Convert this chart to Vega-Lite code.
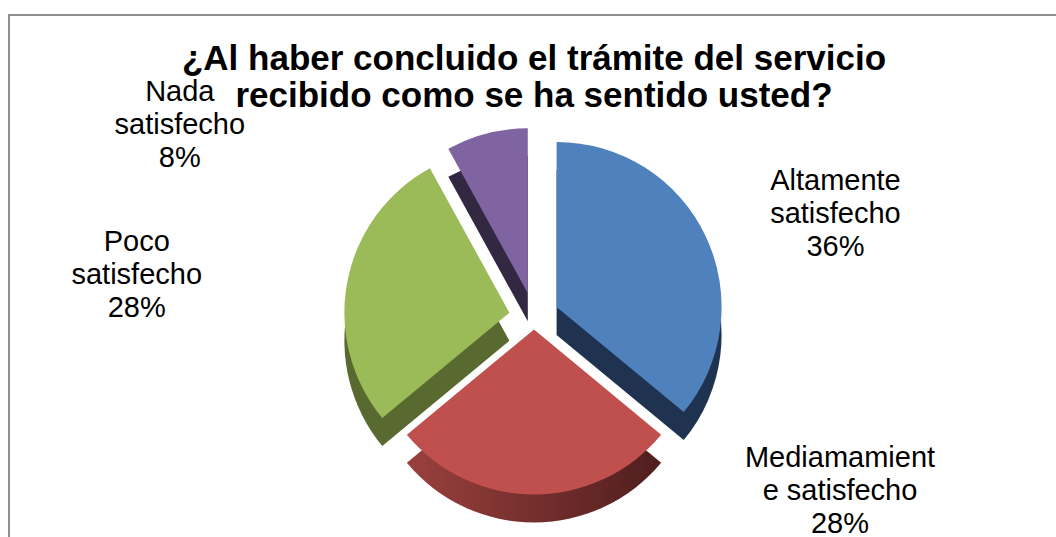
{
  "$schema": "https://vega.github.io/schema/vega-lite/v6.json",
  "width": 1056,
  "height": 537,
  "autosize": {"type": "fit", "contains": "padding"},
  "padding": {"left": 9, "top": 15, "right": -3, "bottom": -3},
  "background": "white",
  "view": {"stroke": "#8f8f8f", "strokeWidth": 2, "fill": "white"},
  "config": {"font": "Liberation Sans"},
  "title": {
    "text": ["¿Al haber concluido el trámite del servicio", "recibido como se ha sentido usted?"],
    "font": "Liberation Sans",
    "fontSize": 35,
    "fontWeight": "bold",
    "color": "#000000",
    "lineHeight": 37,
    "anchor": "middle",
    "frame": "group",
    "baseline": "top",
    "offset": -99
  },
  "data": {
    "values": [
      {"cat": "Altamente satisfecho", "pct": 36, "label": ["Altamente", "satisfecho", "36%"]},
      {"cat": "Mediamamiente satisfecho", "pct": 28, "label": ["Mediamamient", "e satisfecho", "28%"]},
      {"cat": "Poco satisfecho", "pct": 28, "label": ["Poco", "satisfecho", "28%"]},
      {"cat": "Nada satisfecho", "pct": 8, "label": ["Nada", "satisfecho", "8%"]}
    ]
  },
  "transform": [
    {"window": [{"op": "sum", "field": "pct", "as": "end"}], "frame": [null, 0]},
    {"calculate": "datum.end - datum.pct", "as": "start"},
    {"calculate": "(datum.start + datum.end) / 2", "as": "mid"}
  ],
  "encoding": {
    "theta": {"field": "start", "type": "quantitative", "scale": {"domain": [0, 100]}},
    "theta2": {"field": "end"}
  },
  "layer": [
    {"transform": [{"filter": "datum.cat == 'Altamente satisfecho'"}],
     "mark": {"type": "arc", "radius": 165, "xOffset": 22.6, "yOffset": 57.4, "fill": "#1F3350"}},
    {"transform": [{"filter": "datum.cat == 'Mediamamiente satisfecho'"}],
     "mark": {"type": "arc", "radius": 165, "xOffset": 0, "yOffset": 80,
              "fill": {"gradient": "linear", "x1": 0, "x2": 1, "y1": 0, "y2": 0,
                       "stops": [{"offset": 0, "color": "#9A403D"}, {"offset": 1, "color": "#4F1E1E"}]}}},
    {"transform": [{"filter": "datum.cat == 'Poco satisfecho'"}],
     "mark": {"type": "arc", "radius": 165, "xOffset": -24.6, "yOffset": 63.3, "fill": "#586A30"}},
    {"transform": [{"filter": "datum.cat == 'Nada satisfecho'"}],
     "mark": {"type": "arc", "radius": 165, "xOffset": -6.2, "yOffset": 43.8, "fill": "#322842"}},

    {"transform": [{"filter": "datum.cat == 'Altamente satisfecho'"}],
     "mark": {"type": "arc", "radius": 165, "xOffset": 22.6, "yOffset": 29.4, "fill": "#4F81BD"}},
    {"transform": [{"filter": "datum.cat == 'Mediamamiente satisfecho'"}],
     "mark": {"type": "arc", "radius": 165, "xOffset": 0, "yOffset": 52, "fill": "#C0504D"}},
    {"transform": [{"filter": "datum.cat == 'Poco satisfecho'"}],
     "mark": {"type": "arc", "radius": 165, "xOffset": -24.6, "yOffset": 35.3, "fill": "#9BBB59"}},
    {"transform": [{"filter": "datum.cat == 'Nada satisfecho'"}],
     "mark": {"type": "arc", "radius": 165, "xOffset": -6.2, "yOffset": 15.8, "fill": "#8064A2"}},

    {"transform": [{"filter": "datum.cat == 'Altamente satisfecho'"}],
     "mark": {"type": "text", "radius": 300, "yOffset": 40, "dx": 30, "dy": -9, "fontSize": 29, "lineHeight": 33, "align": "center", "baseline": "middle", "fill": "#000000"},
     "encoding": {"theta": {"field": "mid", "type": "quantitative"}, "theta2": null, "text": {"field": "label"}}},
    {"transform": [{"filter": "datum.cat == 'Mediamamiente satisfecho'"}],
     "mark": {"type": "text", "radius": 180, "yOffset": 40, "dx": 306, "dy": -40, "fontSize": 29, "lineHeight": 33, "align": "center", "baseline": "middle", "fill": "#000000"},
     "encoding": {"theta": {"field": "mid", "type": "quantitative"}, "theta2": null, "text": {"field": "label"}}},
    {"transform": [{"filter": "datum.cat == 'Poco satisfecho'"}],
     "mark": {"type": "text", "radius": 380, "yOffset": 40, "dx": -24, "dy": -4, "fontSize": 29, "lineHeight": 33, "align": "center", "baseline": "middle", "fill": "#000000"},
     "encoding": {"theta": {"field": "mid", "type": "quantitative"}, "theta2": null, "text": {"field": "label"}}},
    {"transform": [{"filter": "datum.cat == 'Nada satisfecho'"}],
     "mark": {"type": "text", "radius": 250, "yOffset": 40, "dx": -292, "dy": 17, "fontSize": 29, "lineHeight": 33, "align": "center", "baseline": "middle", "fill": "#000000"},
     "encoding": {"theta": {"field": "mid", "type": "quantitative"}, "theta2": null, "text": {"field": "label"}}}
  ]
}
